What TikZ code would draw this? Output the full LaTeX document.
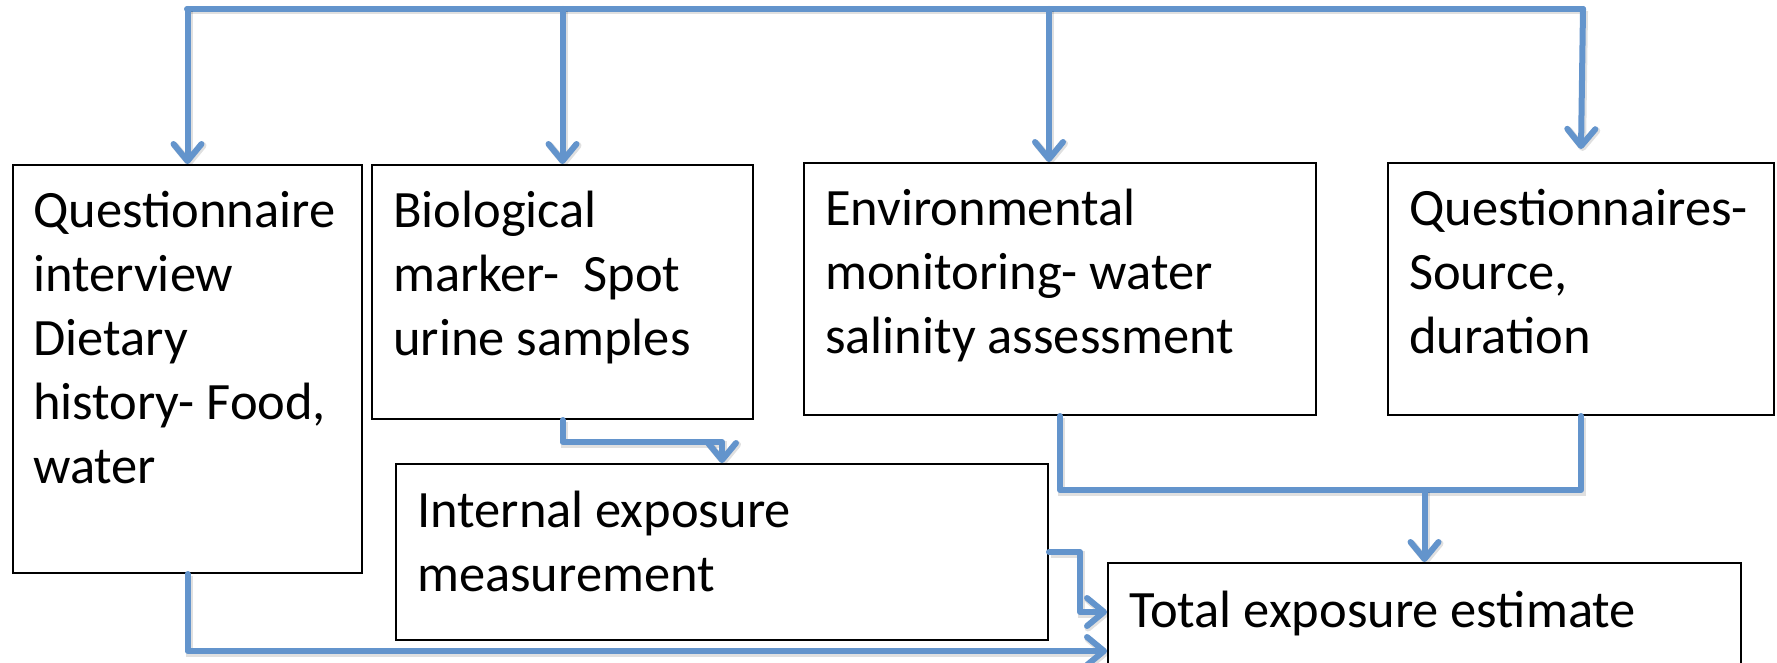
\documentclass[tikz,border=0pt]{standalone}
\usepackage{fontspec}
\setmainfont{Carlito}
\usetikzlibrary{arrows.meta,calc}
\definecolor{conncol}{RGB}{99,148,204}
\begin{document}
\begin{tikzpicture}[x=1pt,y=-1pt,
  box/.style={draw=black,line width=2pt,inner sep=0pt,fill=none},
  txt/.style={anchor=base west,inner sep=0pt,align=left,font=\fontsize{52.5}{64}\selectfont},
  conn/.style={draw=conncol,line width=6pt,line cap=round,line join=round,
    preaction={draw=black,draw opacity=0.12,line width=7pt,transform canvas={shift={(1.5pt,-2pt)}}}},
  arr/.style={conn,-{Straight Barb[length=17pt,width=28pt,line cap=round,line join=round]}}]
\useasboundingbox (0,0) rectangle (1777,663);
\clip (0,0) rectangle (1777,663);
% boxes
\node[box,minimum width=349pt,minimum height=408pt] (b1) at (187.5,369) {};
\node[box,minimum width=381pt,minimum height=254pt] (b2) at (562.5,292) {};
\node[box,minimum width=512pt,minimum height=252pt] (b3) at (1060,289) {};
\node[box,minimum width=386pt,minimum height=252pt] (b4) at (1581,289) {};
\node[box,minimum width=652pt,minimum height=176pt] (int) at (722,552) {};
\node[box,minimum width=633pt,minimum height=137pt] (tot) at (1424.5,631.5) {};
% texts (anchored at the baseline of their last line)
\node[txt] (t1) at (33,483) {Questionnaire\\interview\\Dietary\\history- Food,\\water};
\node[txt] (t2) at (393,355) {Biological\\marker-~ Spot\\urine samples};
\node[txt] (t3) at (825,353) {Environmental\\monitoring- water\\salinity assessment};
\node[txt] (t4) at (1409,353) {Questionnaires-\\Source,\\duration};
\node[txt] (t5) at (417,591) {Internal exposure\\measurement};
\node[txt] (t6) at (1129,627) {Total exposure estimate};
% top bus
\coordinate (busL) at (187,9);
\coordinate (busR) at (1583,9);
\draw[conn] (busL) -- (busR);
\draw[arr] (b1.north |- busL) -- (b1.north);
\draw[arr] (b2.north |- busL) -- (b2.north);
\draw[arr] ([xshift=-11pt]b3.north |- busL) -- ([xshift=-11pt]b3.north);
\draw[arr] (busR) -- ([yshift=13pt]b4.north);
% biological -> internal
\coordinate (bi) at (0,442);
\draw[arr] (b2.south) -- (b2.south |- bi) -| (int.north);
% environmental + questionnaires -> total
\coordinate (jn) at (0,490);
\draw[conn] (b3.south) -- (b3.south |- jn) -- (b4.south |- jn) -- (b4.south);
\draw[arr] (tot.north |- jn) -- (tot.north);
% internal -> total
\coordinate (ti) at ([yshift=-50pt]tot.north west);
\draw[arr] (int.east) -- ++(31,0) |- (ti);
% questionnaire -> total
\coordinate (tq) at ([yshift=-89pt]tot.north west);
\draw[arr] (b1.south) -- (b1.south |- tq) -- (tq);
\end{tikzpicture}
\end{document}
